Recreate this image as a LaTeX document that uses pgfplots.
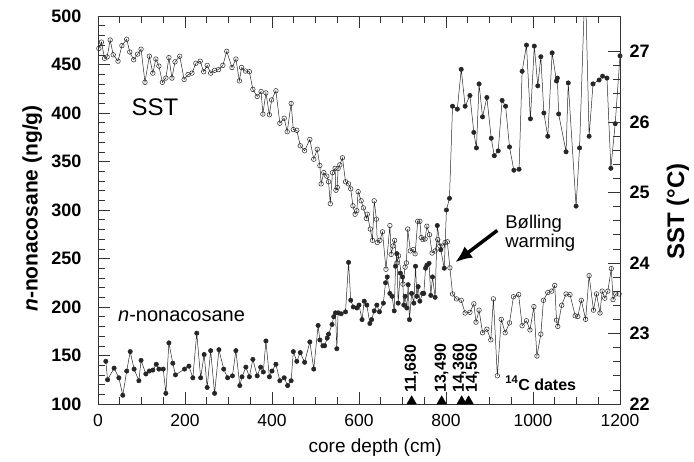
\documentclass[border=0pt]{standalone}
\usepackage{fontspec}
\setmainfont{Liberation Sans}
\usepackage{pgfplots}
\pgfplotsset{compat=1.18}
\usetikzlibrary{arrows.meta}

\pgfplotsset{
  every axis/.append style={
    scale only axis, width=522pt, height=388pt,
    xmin=0, xmax=1200,
    tick align=inside,
    major tick length=12pt, minor tick length=7pt,
    axis line style={black!80, line width=0.6pt},
    every tick/.style={black!80, line width=0.6pt},
    /pgf/number format/assume math mode=true,
    /pgf/number format/1000 sep={},
  },
}
\tikzset{datelabel/.style={font=\fontsize{16}{16}\selectfont\bfseries, inner sep=0pt, anchor=west, rotate=90}}

\begin{document}
\begin{tikzpicture}
\useasboundingbox (-98pt,-57pt) rectangle (596pt,404pt);

% n-nonacosane, left axis
\begin{axis}[
  ymin=100, ymax=500,
  ytick={100,150,...,500}, minor y tick num=4,
  xtick={0,200,...,1200}, minor x tick num=3,
  ytick pos=left,
  xticklabel style={font=\fontsize{17.5}{17.5}\selectfont, yshift=-7pt},
  yticklabel style={font=\fontsize{18}{18}\selectfont\bfseries, xshift=-13pt},
  xlabel={core depth (cm)},
  ylabel={\textit{n}-nonacosane (ng/g)},
  every axis x label/.style={at={(axis description cs:0.531,-0.113)}, anchor=center,
    font=\fontsize{19}{19}\selectfont},
  every axis y label/.style={at={(axis description cs:-0.126,0.504)}, anchor=center, rotate=90,
    font=\fontsize{21}{21}\selectfont\bfseries},
]
\addplot[black!85, line width=0.5pt, mark=*, mark size=2.2pt] coordinates {
(18,144)(22,125)(37,137)(48,127)(57,109)(66,134)(74,154)(83,136)(94,124)(99,145)
(110,131)(118,134)(126,135)(134,141)(140,136)(150,136)(156,111)(163,163)(172,142)(178,130)
(199,136)(209,139)(218,127)(227,173)(236,127)(244,151)(251,117)(259,155)(268,111)(278,156)
(289,136)(298,127)(309,129)(317,155)(326,119)(331,128)(340,138)(348,128)(356,146)(366,129)
(374,138)(380,133)(386,165)(394,128)(400,134)(409,141)(418,124)(428,127)(436,119)(444,124)
(449,154)(457,144)(465,153)(475,143)(487,164)(496,136)(506,181)(510,166)(517,160)(521,160)
(527,168)(530,172)(538,182)(542,190)(546,194)(549,157)(552,194)(559,193)(569,195)(576,246)
(581,207)(587,200)(595,199)(600,202)(607,187)(612,206)(618,202)(625,183)(629,187)(635,196)
(641,202)(647,195)(656,204)(661,225)(665,231)(671,214)(676,211)(681,196)(684,242)(687,255)
(690,204)(695,235)(700,231)(703,202)(706,211)(710,199)(713,223)(716,187)(721,214)(726,204)
(730,242)(733,211)(736,221)(740,206)(746,214)(749,214)(753,240)(756,243)(761,245)(765,212)
(769,231)(775,210)(780,284)(788,259)(796,240)(801,300)(808,312)(815,407)(826,404)(835,445)
(844,407)(855,418)(864,380)(870,364)(876,430)(884,396)(894,416)(904,374)(911,356)(920,361)
(929,413)(937,407)(946,365)(956,341)(968,342)(975,443)(985,470)(994,394)(1003,469)(1011,428)
(1018,458)(1025,400)(1034,376)(1044,462)(1054,433)(1056,436)(1059,399)(1076,360)(1081,431)(1099,304)
(1107,364)(1120,540)(1129,376)(1138,430)(1152,434)(1160,438)(1170,436)(1179,343)(1189,389)(1200,459)
};

% 14C date markers
\addplot[only marks, mark=triangle*, mark size=5.5pt, black] coordinates {
(721,102.8)(790,102.8)(836,102.8)(852,102.8)
};

\node[font=\fontsize{24}{24}\selectfont, inner sep=0pt] at (axis cs:131,406) {SST};
\node[font=\fontsize{20}{20}\selectfont, inner sep=0pt, anchor=west] at (axis cs:46,190.7) {\textit{n}-nonacosane};
\node[font=\fontsize{18.5}{19}\selectfont, inner sep=0pt, anchor=north west, align=left] at (axis cs:936,295) {Bølling\\warming};
\draw[line width=3.5pt, -{Latex[length=17pt,width=14pt]}] (axis cs:918,279) -- (axis cs:821,246);
\node[font=\fontsize{16}{16}\selectfont\bfseries, inner sep=0pt, anchor=base west] at (axis cs:936,114.4) {\textsuperscript{14}C dates};
\node[datelabel] at (axis cs:721,111.3) {11,680};
\node[datelabel] at (axis cs:790,111.3) {13,490};
\node[datelabel] at (axis cs:831,111.3) {14,360};
\node[datelabel] at (axis cs:861,111.3) {14,560};
\end{axis}

% SST, right axis
\begin{axis}[
  ymin=22, ymax=27.5,
  ytick={22,...,27}, minor y tick num=4,
  hide x axis,
  ytick pos=right, yticklabel pos=right,
  yticklabel style={font=\fontsize{18}{18}\selectfont\bfseries, xshift=6pt},
  ylabel={SST (°C)},
  every axis y label/.style={at={(axis description cs:1.111,0.496)}, anchor=center, rotate=90,
    font=\fontsize{24}{24}\selectfont\bfseries},
]
\addplot[black!85, line width=0.5pt, mark=o, mark size=2.3pt, mark options={fill=white, line width=0.5pt}] coordinates {
(2,27.04)(8,27.13)(15,26.90)(21,26.92)(28,27.16)(35,26.95)(46,26.86)(55,27.08)(66,27.17)(73,26.99)
(82,26.88)(91,26.96)(99,27.03)(108,26.56)(118,26.93)(126,26.69)(133,26.89)(140,26.79)(148,26.56)(156,26.62)
(163,26.91)(170,26.62)(177,26.85)(188,26.93)(198,26.60)(207,26.67)(216,26.69)(225,26.83)(235,26.86)(243,26.71)
(251,26.80)(259,26.69)(268,26.73)(277,26.74)(287,26.80)(296,27.00)(308,26.77)(317,26.89)(325,26.58)(330,26.77)
(339,26.72)(348,26.71)(356,26.46)(366,26.36)(375,26.43)(379,26.11)(386,26.41)(394,26.10)(399,26.31)(409,26.44)
(418,25.98)(428,26.05)(435,25.86)(444,26.26)(449,25.89)(457,25.88)(465,25.66)(475,25.59)(487,25.75)(496,25.47)
(504,25.61)(510,25.38)(513,25.12)(519,25.28)(526,25.23)(530,25.15)(534,24.84)(539,25.28)(545,25.34)(547,25.03)
(550,25.07)(552,25.34)(556,25.39)(562,25.49)(569,25.15)(576,25.12)(581,25.05)(586,24.81)(591,24.69)(595,24.74)
(598,25.01)(605,24.88)(610,24.78)(617,24.63)(619,24.69)(626,24.48)(631,24.32)(635,24.88)(640,24.62)(642,24.29)
(648,24.32)(654,24.44)(662,23.91)(671,24.53)(674,24.12)(678,24.24)(682,24.32)(687,24.00)(691,24.10)(701,23.70)
(706,23.94)(709,24.00)(712,24.48)(718,24.17)(725,24.19)(729,24.13)(735,24.59)(740,24.59)(743,24.36)(747,24.33)
(752,24.34)(756,24.52)(762,24.40)(768,24.14)(775,24.17)(781,24.33)(786,24.24)(792,24.24)(798,24.29)(803,24.30)
(809,23.93)(815,23.56)(824,23.49)(835,23.47)(844,23.29)(855,23.30)(864,23.42)(869,23.16)(876,23.33)(884,23.01)
(894,23.06)(903,22.91)(909,23.49)(918,22.40)(927,23.20)(936,23.01)(946,23.15)(955,23.52)(967,23.55)(975,23.11)
(985,23.18)(993,23.05)(1002,23.38)(1009,22.68)(1018,22.99)(1024,23.47)(1034,23.58)(1043,23.60)(1050,23.68)(1054,23.19)
(1057,23.10)(1066,23.40)(1076,23.56)(1085,23.55)(1097,23.25)(1103,23.24)(1111,23.47)(1121,23.20)(1129,23.82)(1139,23.33)
(1146,23.56)(1154,23.29)(1159,23.60)(1165,23.50)(1172,23.60)(1180,23.92)(1184,23.48)(1190,23.56)(1198,23.56)
};
\end{axis}
\end{tikzpicture}
\end{document}
